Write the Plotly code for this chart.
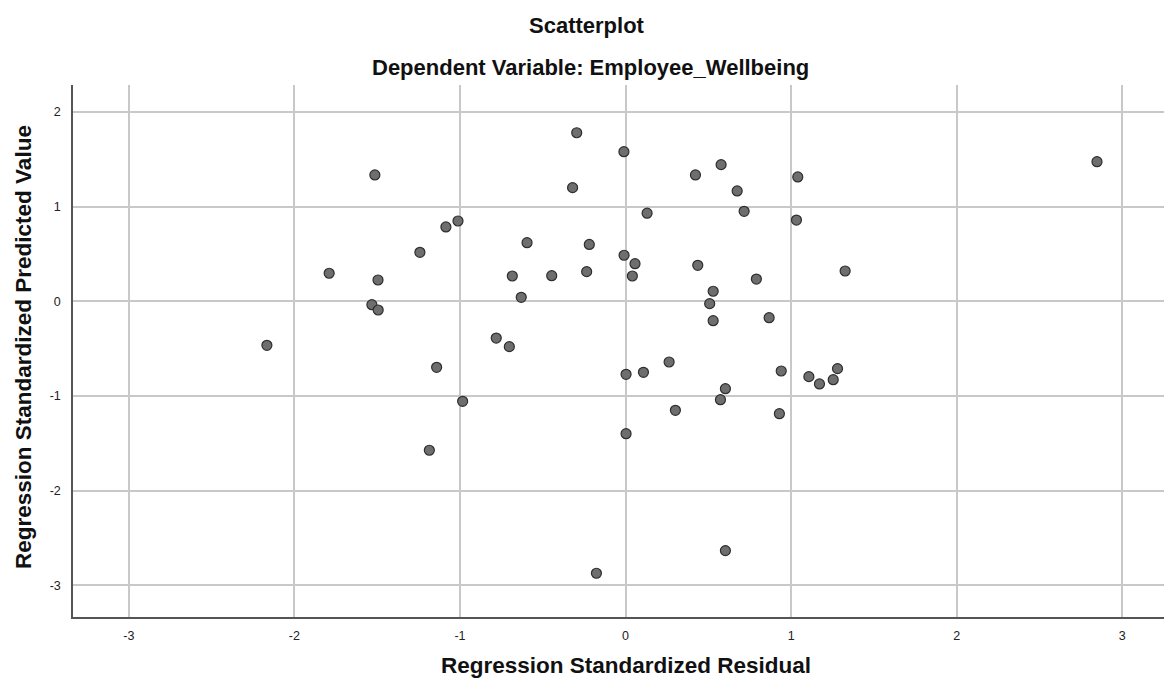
import plotly.graph_objects as go

# Regression standardized residual (x) and standardized predicted value (y)
residual = [-0.295, -0.010, -1.514, -0.320, 0.130, -1.012, -1.085, -1.242, -0.595, -0.219,
            -0.009, 0.057, 0.041, -1.790, -1.495, -0.684, -0.446, -0.235, -0.630, -1.532,
            -1.494, -2.166, -0.781, -0.702, 0.577, 0.422, 1.040, 0.674, 0.716, 1.032,
            0.436, 1.326, 0.790, 0.529, 0.508, 0.867, 0.529, -1.141, -0.984, 0.003,
            0.108, 0.003, -1.185, -0.176, 0.263, 0.940, 1.107, 1.171, 1.254, 1.280,
            0.603, 0.573, 0.301, 0.929, 0.603, 2.847]
predicted = [1.780, 1.580, 1.334, 1.200, 0.930, 0.848, 0.785, 0.517, 0.619, 0.600,
             0.486, 0.397, 0.267, 0.296, 0.225, 0.267, 0.270, 0.313, 0.042, -0.036,
             -0.092, -0.465, -0.388, -0.479, 1.443, 1.334, 1.313, 1.165, 0.950, 0.858,
             0.380, 0.320, 0.235, 0.106, -0.025, -0.173, -0.205, -0.697, -1.056, -0.771,
             -0.750, -1.398, -1.573, -2.872, -0.641, -0.736, -0.796, -0.873, -0.828, -0.711,
             -0.923, -1.039, -1.151, -1.187, -2.633, 1.474]

tick_vals_x = [-3, -2, -1, 0, 1, 2, 3]
tick_vals_y = [-3, -2, -1, 0, 1, 2]

title_text = "Scatterplot"
subtitle_text = "Dependent Variable: Employee_Wellbeing"
x_title = "Regression Standardized Residual"
y_title = "Regression Standardized Predicted Value"

FONT = "Liberation Sans, Arial, sans-serif"
OFF = 8  # default page body margin
W, H = 1172 - OFF, 684 - OFF
L, R, T = 73 - OFF, 0, 85 - OFF
B = H - (617 - OFF)
pw, ph = W - L - R, H - T - B

def px(xs):
    return (xs - OFF - L) / pw

def py(ys):
    return (H - B - (ys - OFF)) / ph

fig = go.Figure()
fig.add_trace(go.Scatter(
    x=residual, y=predicted, mode="markers",
    marker=dict(size=10, color="#6e6e6e", line=dict(color="#2e2e2e", width=1.2)),
    showlegend=False, hoverinfo="x+y"))

TS = 22
AS = 22.5
fig.update_layout(
    width=W, height=H,
    margin=dict(l=L, r=R, t=T, b=B, pad=0),
    paper_bgcolor="white", plot_bgcolor="white",
    font=dict(family=FONT, color="#111111"),
    xaxis=dict(range=[-3.337, 3.30], tickvals=tick_vals_x, ticktext=[str(v) for v in tick_vals_x],
               showgrid=True, gridcolor="#c8c8c8", gridwidth=1.5, zeroline=False,
               showline=True, linecolor="#555555", linewidth=1.5, ticks="",
               tickfont=dict(size=12.5, family=FONT, color="#222222"), ticklabelstandoff=6),
    yaxis=dict(range=[-3.334, 2.284], tickvals=tick_vals_y, ticktext=[str(v) for v in tick_vals_y],
               showgrid=True, gridcolor="#c8c8c8", gridwidth=1.5, zeroline=False,
               showline=True, linecolor="#555555", linewidth=1.5, ticks="",
               tickfont=dict(size=12.5, family=FONT, color="#222222"), ticklabelstandoff=8),
    annotations=[
        dict(text="<b>%s</b>" % title_text, x=px(587), y=py(25), xref="paper", yref="paper",
             xanchor="center", yanchor="middle", showarrow=False,
             font=dict(size=TS, family=FONT, color="#111111")),
        dict(text="<b>%s</b>" % subtitle_text, x=px(590), y=py(67), xref="paper", yref="paper",
             xanchor="center", yanchor="middle", showarrow=False,
             font=dict(size=TS, family=FONT, color="#111111")),
        dict(text="<b>%s</b>" % x_title, x=px(626), y=py(665), xref="paper", yref="paper",
             xanchor="center", yanchor="middle", showarrow=False,
             font=dict(size=AS, family=FONT, color="#111111")),
        dict(text="<b>%s</b>" % y_title, x=px(24), y=py(347), xref="paper", yref="paper",
             xanchor="center", yanchor="middle", showarrow=False, textangle=-90,
             font=dict(size=AS, family=FONT, color="#111111")),
    ],
)

fig.write_html("out.html")
